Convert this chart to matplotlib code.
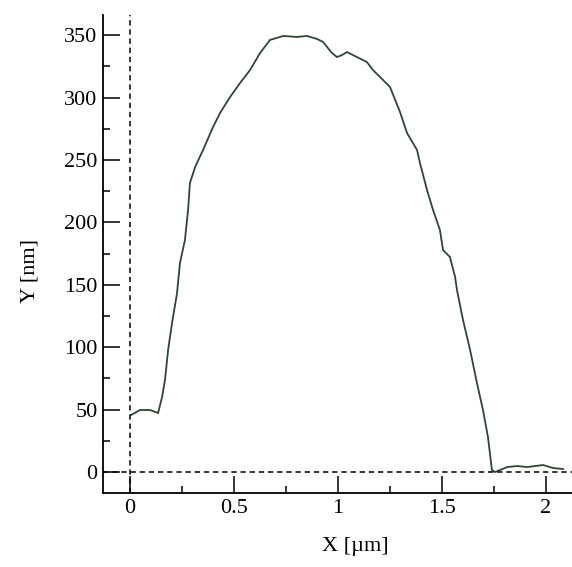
import matplotlib
matplotlib.use("Agg")
import matplotlib.pyplot as plt
from matplotlib.ticker import MultipleLocator

# Height profile along the scan line
x_um = [0.005, 0.048, 0.096, 0.135, 0.154, 0.168, 0.183, 0.202, 0.226, 0.240,
        0.264, 0.279, 0.288, 0.313, 0.351, 0.399, 0.433, 0.481, 0.529, 0.577,
        0.625, 0.673, 0.736, 0.803, 0.851, 0.899, 0.928, 0.971, 0.995, 1.019,
        1.043, 1.091, 1.139, 1.168, 1.202, 1.250, 1.298, 1.332, 1.380, 1.394,
        1.428, 1.457, 1.490, 1.505, 1.538, 1.563, 1.572, 1.601, 1.635, 1.668,
        1.697, 1.721, 1.740, 1.755, 1.779, 1.813, 1.861, 1.909, 1.986, 2.034,
        2.082]
y_nm = [45.7, 49.7, 49.7, 47.3, 60.1, 73.7, 97.8, 119.4, 143.4, 167.5,
        185.9, 209.9, 231.6, 244.4, 258.0, 276.4, 287.7, 300.5, 311.7, 322.1,
        335.7, 346.2, 349.4, 348.6, 349.4, 347.0, 344.6, 335.7, 332.5, 334.1,
        336.5, 332.5, 328.5, 322.1, 316.5, 308.5, 288.5, 271.6, 258.0, 247.6,
        226.0, 209.9, 193.9, 177.9, 172.3, 156.3, 145.8, 121.8, 97.8, 71.3,
        49.7, 28.0, 1.6, 0.0, 1.6, 4.0, 4.8, 4.0, 5.6, 3.2,
        2.4]

x_ticks = [0, 0.5, 1, 1.5, 2]
x_tick_labels = ["0", "0.5", "1", "1.5", "2"]
y_ticks = [0, 50, 100, 150, 200, 250, 300, 350]
y_tick_labels = ["0", "50", "100", "150", "200", "250", "300", "350"]

W, H = 572, 567
fig = plt.figure(figsize=(W / 100, H / 100), dpi=100)
fig.patch.set_facecolor("white")

# axes box in pixel terms
left, right, top, bottom = 103, 572, 15, 493
ax = fig.add_axes([left / W, (H - bottom) / H, (right - left) / W, (bottom - top) / H])
ax.set_xlim(-0.13, 2.125)
ax.set_ylim(-16.8, 366.2)

serif = "Liberation Serif"

ax.plot(x_um, y_nm, color="#2f4634", lw=1.3, solid_joinstyle="miter")
ax.axvline(0, color="black", lw=1.1, ls=(0, (3.5, 2.5)))
ax.axhline(0, color="black", lw=1.1, ls=(0, (3.5, 2.5)))

for side in ("top", "right"):
    ax.spines[side].set_visible(False)
for side in ("left", "bottom"):
    ax.spines[side].set_linewidth(1.3)
    ax.spines[side].set_color("black")

ax.set_xticks(x_ticks)
ax.set_xticklabels(x_tick_labels)
ax.set_yticks(y_ticks)
ax.set_yticklabels(y_tick_labels)
ax.xaxis.set_minor_locator(MultipleLocator(0.25))
ax.yaxis.set_minor_locator(MultipleLocator(25))
ax.tick_params(which="major", direction="in", length=12, width=1.1, pad=4,
               labelsize=16, colors="black")
ax.tick_params(which="minor", direction="in", length=5, width=1.1)
for lab in ax.get_xticklabels() + ax.get_yticklabels():
    lab.set_fontfamily(serif)

fig.text(355 / W, 1 - 546 / H, "X [\u00b5m]", family=serif, fontsize=16,
         ha="center", va="center")
fig.text(30 / W, 1 - 271 / H, "Y [nm]", family=serif, fontsize=16,
         ha="center", va="center", rotation=90)

fig.savefig("out.png", dpi=100, facecolor="white")
